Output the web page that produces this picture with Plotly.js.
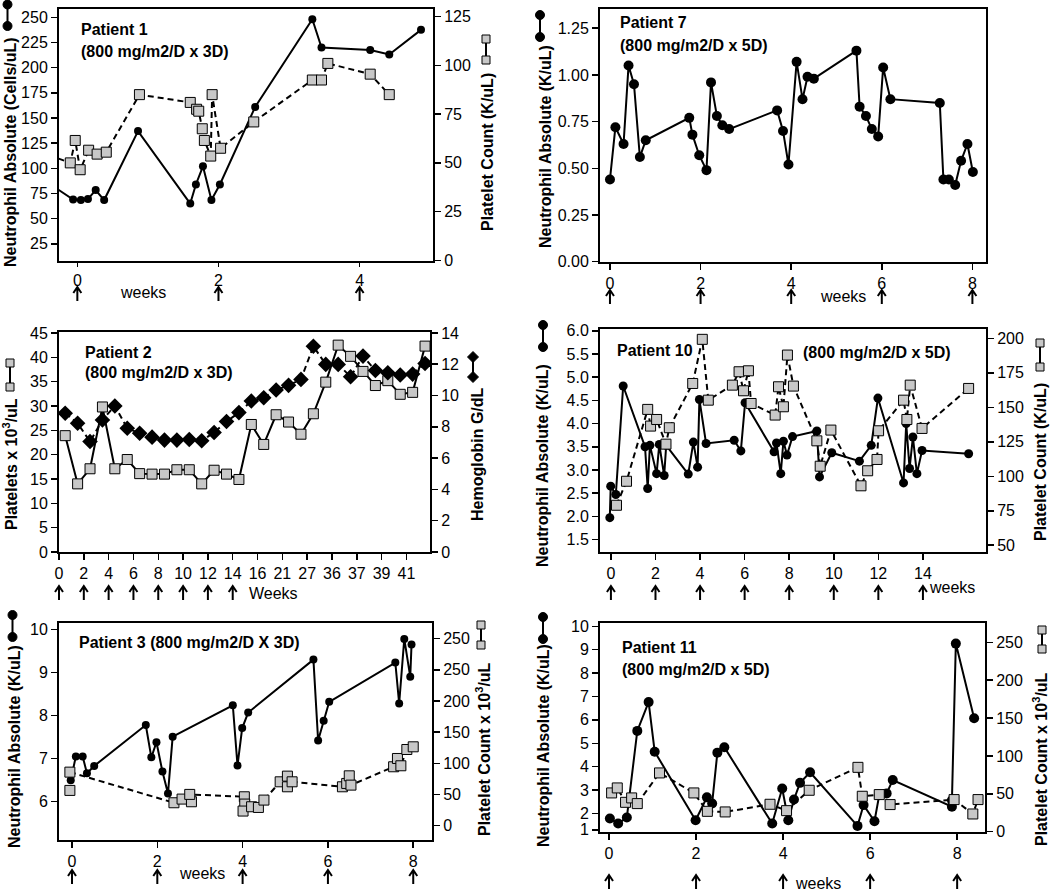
<!DOCTYPE html>
<html><head><meta charset="utf-8">
<script src="https://cdn.plot.ly/plotly-3.0.1.min.js"></script>
<style>html,body{margin:0;padding:0;background:#fff}#chart{width:1050px;height:891px}</style>
</head><body><div id="chart"></div>
<script>
// ---------------- DATA ----------------
// Patient 1 (weeks, neutrophils cells/uL, platelets K/uL)
const p1NeutWeeks = [-0.4, -0.06, 0.05, 0.15, 0.26, 0.38, 0.86, 1.60, 1.68, 1.78, 1.90, 2.02, 2.52, 3.33, 3.46, 4.15, 4.42, 4.87];
const p1Neut      = [85, 69, 68.5, 69.5, 78.5, 68.5, 137, 65, 84, 102, 68.5, 84, 161, 248, 220, 217.5, 213, 237.5];
const p1PltWeeks  = [-0.4, -0.10, -0.03, 0.04, 0.16, 0.28, 0.41, 0.88, 1.60, 1.69, 1.72, 1.77, 1.80, 1.89, 1.91, 2.03, 2.50, 3.33, 3.46, 3.55, 4.15, 4.42];
const p1Plt       = [54, 50, 61.5, 46.5, 56.5, 54.5, 55.5, 85, 81, 77.5, 76.5, 67.5, 61.5, 53.5, 85, 57.5, 71, 92.5, 92.5, 101, 95.5, 85];
const p1Arrows    = [0, 2, 4];

// Patient 7
const p7Weeks = [0.00, 0.12, 0.30, 0.41, 0.53, 0.66, 0.79, 1.75, 1.82, 1.97, 2.13, 2.23, 2.36, 2.48, 2.63, 3.69, 3.82, 3.94, 4.12, 4.25, 4.36, 4.50, 5.44, 5.51, 5.65, 5.78, 5.92, 6.03, 6.19, 7.28, 7.36, 7.48, 7.62, 7.75, 7.89, 8.01];
const p7Neut  = [0.44, 0.72, 0.63, 1.05, 0.95, 0.56, 0.65, 0.77, 0.68, 0.57, 0.49, 0.96, 0.78, 0.73, 0.71, 0.81, 0.70, 0.52, 1.07, 0.87, 0.99, 0.98, 1.13, 0.83, 0.78, 0.71, 0.67, 1.04, 0.87, 0.85, 0.44, 0.44, 0.41, 0.54, 0.63, 0.48];
const p7Arrows = [0, 2, 4, 6, 8];

// Patient 2 (category positions, platelets x10^3/uL, hemoglobin g/dL)
const p2TickPos    = [0, 1, 2, 3, 4, 5, 6, 7, 8, 9, 10, 11, 12, 13, 14];
const p2WeekLabels = ["0","2","4","6","8","10","12","14","16","21","27","36","37","39","41"];
const p2Pos = [0.25, 0.75, 1.25, 1.75, 2.25, 2.75, 3.25, 3.75, 4.25, 4.75, 5.25, 5.75, 6.25, 6.75, 7.25, 7.75, 8.25, 8.75, 9.25, 9.75, 10.25, 10.75, 11.25, 11.75, 12.25, 12.75, 13.25, 13.75, 14.25, 14.75];
const p2Plt = [23.9, 14.0, 17.1, 29.8, 17.1, 19.0, 16.1, 16.0, 16.0, 16.9, 16.9, 14.0, 16.8, 16.0, 14.9, 26.2, 22.1, 28.2, 26.7, 24.2, 28.4, 34.9, 42.5, 40.2, 37.1, 34.2, 35.2, 32.4, 32.8, 42.3];
const p2Hgb = [8.87, 8.23, 7.06, 8.44, 9.33, 7.91, 7.59, 7.34, 7.15, 7.15, 7.19, 7.11, 7.64, 8.34, 8.91, 9.65, 9.86, 10.35, 10.65, 11.03, 13.15, 11.99, 11.99, 11.2, 12.52, 11.6, 11.46, 11.31, 11.37, 12.05];
const p2Arrows = [0, 1, 2, 3, 4, 5, 6, 7];

// Patient 10
const p10NeutWeeks = [-0.05, -0.01, 0.22, 0.55, 1.53, 1.65, 1.75, 2.05, 2.17, 2.39, 2.48, 3.47, 3.70, 3.89, 3.97, 4.27, 5.53, 5.83, 6.02, 7.32, 7.43, 7.62, 7.74, 7.90, 8.15, 9.24, 9.36, 9.91, 11.15, 11.68, 11.98, 13.13, 13.25, 13.40, 13.55, 13.73, 13.96, 16.05];
const p10Neut      = [1.97, 2.65, 2.47, 4.81, 3.50, 2.60, 3.53, 2.92, 3.55, 2.88, 3.53, 2.91, 3.60, 3.06, 4.52, 3.57, 3.64, 3.41, 4.45, 3.39, 3.58, 2.92, 3.62, 3.32, 3.72, 3.84, 2.85, 3.37, 3.19, 3.53, 4.55, 2.72, 4.00, 3.03, 3.71, 2.92, 3.42, 3.35];
const p10PltWeeks  = [0.25, 0.70, 1.65, 1.78, 2.05, 2.47, 2.62, 3.67, 4.10, 4.37, 5.45, 5.75, 5.95, 6.17, 6.29, 7.37, 7.52, 7.74, 7.92, 8.19, 9.24, 9.39, 9.87, 11.22, 11.52, 11.94, 12.01, 13.13, 13.28, 13.43, 13.96, 16.05];
const p10Plt       = [79, 96.4, 148.5, 136.4, 141.2, 123.3, 135.2, 167.3, 199.3, 155.2, 166.1, 175.8, 162.0, 176.5, 152.8, 144.4, 164.9, 150.4, 187.9, 165.4, 125.7, 107.3, 133.5, 93.1, 104.0, 112.2, 133.0, 155.2, 141.2, 166.1, 134.7, 163.7];
const p10Arrows = [0, 2, 4, 6, 8, 10, 12, 14];

// Patient 3
const p3NeutWeeks = [-0.03, 0.09, 0.25, 0.35, 0.52, 1.73, 1.86, 1.98, 2.12, 2.25, 2.36, 3.77, 3.88, 3.99, 4.13, 5.66, 5.77, 5.90, 6.03, 7.58, 7.67, 7.79, 7.93, 7.96];
const p3Neut      = [6.50, 7.05, 7.05, 6.66, 6.83, 7.78, 7.03, 7.38, 6.70, 6.19, 7.51, 8.24, 6.84, 7.71, 8.07, 9.30, 7.42, 7.88, 8.32, 9.23, 8.28, 9.78, 8.90, 9.65];
const p3PltWeeks  = [-0.05, null, -0.05, 2.39, 2.58, 2.80, 2.76, 4.04, 4.05, 4.01, 4.21, 4.37, 4.50, 4.88, 5.05, 5.05, 5.16, 6.34, 6.44, 6.50, 6.54, 7.54, 7.63, 7.71, 7.85, 8.00];
const p3Plt       = [56.6, null, 85.9, 36.8, 42.7, 38.4, 50.2, 46.4, 34.7, 23.5, 30.4, 29.3, 41.1, 70.4, 79.5, 62.4, 70.4, 62.4, 67.8, 80.0, 65.1, 94.5, 107.8, 96.1, 122.2, 126.5];
const p3RightTicks  = [0, 50, 100, 150, 200, 250, 300];
const p3RightLabels = ["0", "50", "100", "150", "200", "250", "250"];
const p3Arrows = [0, 2, 4, 6, 8];

// Patient 11
const p11NeutWeeks = [0.02, 0.21, 0.41, 0.65, 0.91, 1.05, 1.99, 2.25, 2.37, 2.49, 2.65, 3.75, 3.98, 4.12, 4.25, 4.39, 4.62, 5.71, 5.85, 6.10, 6.21, 6.38, 6.52, 7.88, 7.88, 7.97, 8.39];
const p11Neut      = [1.79, 1.57, 1.83, 5.53, 6.76, 4.64, 1.71, 2.69, 2.43, 4.60, 4.83, 1.57, 3.07, 1.71, 2.60, 3.31, 3.76, 1.47, 2.36, 1.67, 2.79, 2.86, 3.43, 2.29, 2.57, 9.26, 6.07];
const p11PltWeeks  = [0.06, 0.19, 0.38, 0.52, 0.65, 1.16, 1.95, 2.26, 2.67, 3.70, 4.08, 4.60, 5.72, 5.82, 6.21, 6.46, 7.93, 8.36, 8.48];
const p11Plt       = [51.1, 57.7, 38.7, 44.5, 37.0, 77.5, 51.1, 26.8, 26.0, 36.1, 27.7, 54.6, 84.9, 46.7, 48.9, 35.7, 42.3, 23.3, 42.3];
const p11LeftTicks  = [1.3, 2, 3, 4, 5, 6, 7, 8, 9, 10];
const p11LeftLabels = ["1", "2", "3", "4", "5", "6", "7", "8", "9", "10"];
const p11Arrows = [0, 2, 4, 6, 8];

// ---------------- LAYOUT HELPERS ----------------
const W = 1050, H = 891;
const FONT = 'Liberation Sans, Arial, Helvetica, sans-serif';
const fx = p => p / W, fy = p => 1 - p / H;
const TF = {family: FONT, size: 16, color: '#000'};

function base(extra) {
  return Object.assign({showline: true, linewidth: 2, linecolor: '#000', mirror: true,
    ticks: 'outside', ticklen: 6, tickwidth: 1.5, tickcolor: '#000',
    showgrid: false, zeroline: false, tickfont: TF, fixedrange: true}, extra);
}
function xAx(L, R, range, extra) { return base(Object.assign({domain: [fx(L), fx(R)], range}, extra)); }
function yAx(T, B, range, extra) { return base(Object.assign({domain: [fy(B), fy(T)], range}, extra)); }

const layout = {
  width: W, height: H, autosize: false, showlegend: false,
  margin: {l: 0, r: 0, t: 0, b: 0},
  paper_bgcolor: '#fff', plot_bgcolor: '#fff',
  font: {family: FONT, color: '#000'},
  // Patient 1
  xaxis:  xAx(59, 433, [-0.26, 5.04], {anchor: 'y', tickvals: [0, 2, 4], ticklen: 4}),
  yaxis:  yAx(9, 261, [8, 258.2], {anchor: 'x', tick0: 0, dtick: 25}),
  yaxis7: yAx(9, 261, [-0.3, 128.9], {anchor: 'x', overlaying: 'y', side: 'right', mirror: false, tick0: 0, dtick: 25}),
  // Patient 7
  xaxis2: xAx(600, 986, [-0.22, 8.30], {anchor: 'y2', tickvals: [0, 2, 4, 6, 8]}),
  yaxis2: yAx(9, 262, [-0.002, 1.353], {anchor: 'x2', tick0: 0, dtick: 0.25, tickformat: '.2f'}),
  // Patient 2
  xaxis3: xAx(59, 430, [0, 14.95], {anchor: 'y3', tickvals: p2TickPos, ticktext: p2WeekLabels}),
  yaxis3: yAx(332, 552, [0, 45.2], {anchor: 'x3', tick0: 0, dtick: 5}),
  yaxis8: yAx(332, 552, [0, 14.06], {anchor: 'x3', overlaying: 'y3', side: 'right', mirror: false, tick0: 0, dtick: 2}),
  // Patient 10
  xaxis4: xAx(600, 986, [-0.49, 16.83], {anchor: 'y4', tickvals: [0, 2, 4, 6, 8, 10, 12, 14]}),
  yaxis4: yAx(329, 552, [1.23, 6.04], {anchor: 'x4', tick0: 1.5, dtick: 0.5, tickformat: '.1f'}),
  yaxis9: yAx(329, 552, [45.1, 206.8], {anchor: 'x4', overlaying: 'y4', side: 'right', mirror: false, tick0: 50, dtick: 25}),
  // Patient 3
  xaxis5: xAx(59, 432, [-0.305, 8.44], {anchor: 'y5', tickvals: [0, 2, 4, 6, 8]}),
  yaxis5: yAx(623, 840, [5.11, 10.15], {anchor: 'x5', tick0: 0, dtick: 1}),
  yaxis10: yAx(623, 840, [-22.9, 325], {anchor: 'x5', overlaying: 'y5', side: 'right', mirror: false, tickvals: p3RightTicks, ticktext: p3RightLabels}),
  // Patient 11
  xaxis6: xAx(600, 985, [-0.207, 8.64], {anchor: 'y6', tickvals: [0, 2, 4, 6, 8]}),
  yaxis6: yAx(623, 832, [1.21, 10.14], {anchor: 'x6', tickvals: p11LeftTicks, ticktext: p11LeftLabels}),
  yaxis11: yAx(623, 832, [-0.5, 275.5], {anchor: 'x6', overlaying: 'y6', side: 'right', mirror: false, tick0: 0, dtick: 50}),
  annotations: [], shapes: []
};

// ---------------- TRACES ----------------
function neut(x, y, xa, ya, size) {
  return {x, y, xaxis: xa, yaxis: ya, type: 'scatter', mode: 'lines+markers', cliponaxis: true,
    line: {color: '#000', width: 2}, marker: {symbol: 'circle', size: size || 9, color: '#000'}, hoverinfo: 'skip'};
}
function plt(x, y, xa, ya, dashed) {
  return {x, y, xaxis: xa, yaxis: ya, type: 'scatter', mode: 'lines+markers', cliponaxis: true, connectgaps: false,
    line: {color: '#000', width: 2, dash: dashed ? '6px,4px' : 'solid'},
    marker: {symbol: 'square', size: 10, color: '#c8c8c8', line: {color: '#000', width: 1}}, hoverinfo: 'skip'};
}
const traces = [
  plt(p1PltWeeks, p1Plt, 'x', 'y7', true),
  neut(p1NeutWeeks, p1Neut, 'x', 'y', 8),
  neut(p7Weeks, p7Neut, 'x2', 'y2', 10),
  plt(p2Pos, p2Plt, 'x3', 'y3', false),
  {x: p2Pos, y: p2Hgb, xaxis: 'x3', yaxis: 'y8', type: 'scatter', mode: 'lines+markers',
   line: {color: '#000', width: 2, dash: '6px,4px'}, marker: {symbol: 'diamond', size: 12, color: '#000'}, hoverinfo: 'skip'},
  neut(p10NeutWeeks, p10Neut, 'x4', 'y4', 9),
  plt(p10PltWeeks, p10Plt, 'x4', 'y9', true),
  neut(p3NeutWeeks, p3Neut, 'x5', 'y5', 8),
  plt(p3PltWeeks, p3Plt, 'x5', 'y10', true),
  neut(p11NeutWeeks, p11Neut, 'x6', 'y6', 10),
  plt(p11PltWeeks, p11Plt, 'x6', 'y11', true)
];

// ---------------- ANNOTATIONS ----------------
const ann = layout.annotations;
function label(text, xPx, yPx, o) {
  ann.push(Object.assign({text, x: fx(xPx), y: fy(yPx), xref: 'paper', yref: 'paper', showarrow: false,
    xanchor: 'left', yanchor: 'middle', font: TF}, o || {}));
}
function vtitle(text, xPx, yPx) { label('<b>' + text + '</b>', xPx, yPx, {xanchor: 'center', textangle: -90}); }

label('<b>Patient 1</b>', 79, 30);
label('<b>(800 mg/m2/D x 3D)</b>', 79, 52);
label('<b>Patient 7</b>', 618, 23);
label('<b>(800 mg/m2/D x 5D)</b>', 618, 46);
label('<b>Patient 2</b>', 83, 352);
label('<b>(800 mg/m2/D x 3D)</b>', 83, 372);
label('<b>Patient 10</b>', 615, 350);
label('<b>(800 mg/m2/D x 5D)</b>', 801, 352);
label('<b>Patient 3 (800 mg/m2/D X 3D)</b>', 77, 642);
label('<b>Patient 11</b>', 620, 647);
label('<b>(800 mg/m2/D x 5D)</b>', 620, 669);

vtitle('Neutrophil Absolute (Cells/uL)', 10, 152);
vtitle('Platelet Count (K/uL)', 487, 152);
vtitle('Neutrophil Absolute (K/uL)', 545, 147);
vtitle('Platelets x 10<sup>3</sup>/uL', 10, 464);
vtitle('Hemoglobin G/dL', 477, 454);
vtitle('Neutrophil Absolute (K/uL)', 543, 466);
vtitle('Platelet Count (K/uL)', 1040, 462);
vtitle('Neutrophil Absolute (K/uL)', 14, 747);
vtitle('Platelet Count x 10<sup>3</sup>/uL', 483, 749);
vtitle('Neutrophil Absolute (K/uL)', 543, 746);
vtitle('Platelet Count x 10<sup>3</sup>/uL', 1040, 759);

label('weeks', 143, 293, {xanchor: 'center'});
label('weeks', 843, 297, {xanchor: 'center'});
label('Weeks', 273, 593, {xanchor: 'center'});
label('weeks', 952, 587, {xanchor: 'center'});
label('weeks', 202, 873, {xanchor: 'center'});
label('weeks', 818, 883, {xanchor: 'center'});

// ---------------- SHAPES: dose arrows + series key symbols ----------------
const shp = layout.shapes;
// arrows are placed on the x axis' domain (not clipped to the plot area)
function arrows(axName, weeks, yPx) {
  const ax = layout[axName], r = ax.range;
  const ref = (axName === 'xaxis' ? 'x' : 'x' + axName.slice(5)) + ' domain';
  weeks.forEach(w => shp.push({type: 'path', xref: ref, yref: 'paper', xsizemode: 'pixel', ysizemode: 'pixel',
    xanchor: (w - r[0]) / (r[1] - r[0]), yanchor: fy(yPx), path: 'M0,-7 L0,7 M-4,1 L0,7 L4,1',
    line: {color: '#000', width: 2}, fillcolor: 'rgba(0,0,0,0)', layer: 'above'}));
}
arrows('xaxis', p1Arrows, 294);
arrows('xaxis2', p7Arrows, 297);
arrows('xaxis3', p2Arrows, 593);
arrows('xaxis4', p10Arrows, 593);
arrows('xaxis5', p3Arrows, 877);
arrows('xaxis6', p11Arrows, 882);

function symPair(kind, cx, ya, yb) {
  const P = {xref: 'paper', yref: 'paper', layer: 'above'};
  shp.push(Object.assign({type: 'line', x0: fx(cx), x1: fx(cx), y0: fy(ya), y1: fy(yb), line: {color: '#000', width: 2}}, P));
  [ya, yb].forEach(y => {
    if (kind === 'circle') shp.push(Object.assign({type: 'circle', x0: fx(cx - 4.5), x1: fx(cx + 4.5), y0: fy(y + 4.5), y1: fy(y - 4.5), fillcolor: '#000', line: {color: '#000', width: 1}}, P));
    if (kind === 'square') shp.push(Object.assign({type: 'rect', x0: fx(cx - 4), x1: fx(cx + 4), y0: fy(y + 4), y1: fy(y - 4), fillcolor: '#c8c8c8', line: {color: '#000', width: 1}}, P));
    if (kind === 'diamond') shp.push(Object.assign({type: 'path',
      path: `M ${fx(cx)},${fy(y - 5.5)} L ${fx(cx + 5.5)},${fy(y)} L ${fx(cx)},${fy(y + 5.5)} L ${fx(cx - 5.5)},${fy(y)} Z`,
      fillcolor: '#000', line: {color: '#000', width: 1}}, P));
  });
}
symPair('circle', 7.5, 4.5, 26);
symPair('square', 486, 39, 60);
symPair('circle', 540, 15, 37);
symPair('square', 10, 363, 387);
symPair('diamond', 473, 357, 377);
symPair('circle', 543, 325, 347);
symPair('square', 1040, 343, 367);
symPair('circle', 12.5, 615, 637);
symPair('square', 481, 625, 645);
symPair('circle', 543, 617, 639);
symPair('square', 1042, 630, 649);

Plotly.newPlot('chart', traces, layout, {staticPlot: true, displayModeBar: false});
</script></body></html>
